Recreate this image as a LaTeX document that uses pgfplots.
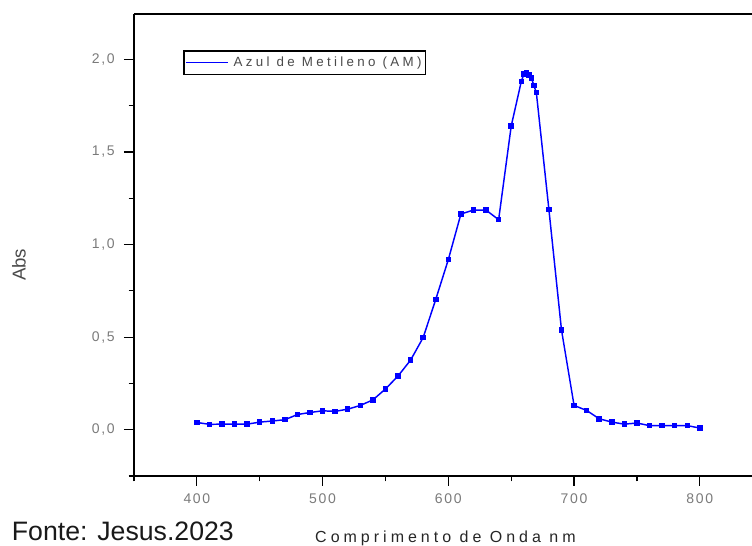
\documentclass[border=0pt]{standalone}
\usepackage{fontspec}
\setmainfont{Liberation Sans}
\newfontfamily\spaced[LetterSpace=25]{Liberation Sans}
\newfontfamily\tickfont[LetterSpace=12]{Liberation Sans}
\usepackage{pgfplots}
\pgfplotsset{compat=1.18}
\definecolor{tickgray}{HTML}{7A7A7A}
\definecolor{txtgray}{HTML}{4A4A4A}
\pgfplotstableread{
x y
400 0.039
410 0.029
420 0.030
430 0.030
440 0.030
450 0.041
460 0.047
470 0.054
480 0.082
490 0.093
500 0.102
510 0.099
520 0.111
530 0.131
540 0.161
550 0.220
560 0.290
570 0.376
580 0.498
590 0.704
600 0.919
610 1.165
620 1.186
630 1.186
640 1.134
650 1.640
658 1.880
660 1.920
662 1.930
664 1.915
666 1.900
668 1.860
670 1.820
680 1.188
690 0.538
700 0.131
710 0.104
720 0.059
730 0.041
740 0.030
750 0.036
760 0.022
770 0.022
780 0.022
790 0.022
800 0.009
}\amdata
\begin{document}
\begin{tikzpicture}
\begin{axis}[name=ax, scale only axis, width=463.5pt, height=346.5pt,
  xmin=350, xmax=841.5, ymin=-0.25, ymax=2.245,
  axis x line=box, axis y line=left,
  axis line style={-, line width=1pt, black},
  xtick={400,500,600,700,800}, minor xtick={350,450,550,650,750},
  ytick={0,0.5,1,1.5,2}, minor ytick={-0.25,0.25,0.75,1.25,1.75},
  xtick pos=bottom, tick align=outside,
  major tick length=7.5pt, minor tick length=4pt,
  every tick/.style={black, line width=0.9pt},
  tick label style={font=\tickfont\fontsize{10.5}{12}\selectfont, text=tickgray},
  /pgf/number format/assume math mode=true,
  yticklabel style={xshift=-3.5pt, /pgf/number format/.cd, fixed, fixed zerofill, precision=1, use comma, assume math mode=true},
  xticklabel style={yshift=-2pt, /pgf/number format/.cd, fixed, precision=0, set thousands separator={}, assume math mode=true},
  legend style={at={(0.0794,0.922)}, anchor=north west, draw=black, line width=1.2pt,
    fill=white, inner xsep=1pt, inner ysep=2.5pt,
    font=\spaced\fontsize{10}{11}\selectfont, text=txtgray},
  legend cell align=left,
  legend image code/.code={\draw[blue, line width=0.9pt] (0pt,0pt) -- (31.5pt,0pt);},
  clip=false,
]
\addplot[blue, line width=1.1pt, mark=square*, mark size=1.5pt, mark options={solid, fill=blue}] table[x=x,y=y] {\amdata};
\addlegendentry{\hspace{2pt}Azul de Metileno (AM)}
\node[rotate=90, font=\fontsize{14}{16}\selectfont, text=txtgray] at (axis description cs:-0.186,0.457) {Abs};
\node[font=\spaced\fontsize{12}{14}\selectfont, text=black!85] at (axis description cs:0.504,-0.136) {Comprimento de Onda nm};
\node[anchor=west, inner sep=0pt, font=\fontsize{20}{22}\selectfont, text=black!90] at (axis description cs:-0.198,-0.12) {Fonte: Jesus.2023};
\end{axis}
\pgfresetboundingbox
\path ([xshift=-100.5pt,yshift=-52.5pt]ax.south west) rectangle ([yshift=10.5pt]ax.north east);
\end{tikzpicture}
\end{document}
